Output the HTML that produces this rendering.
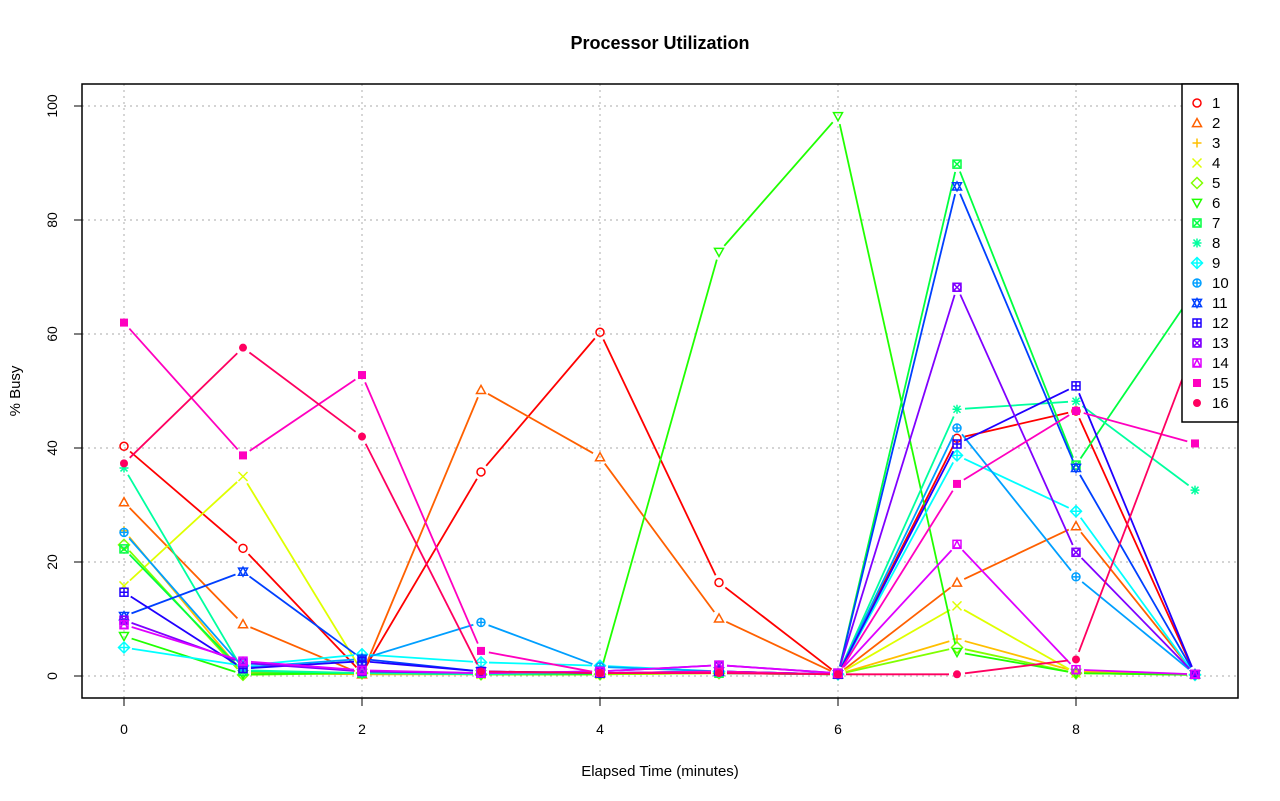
<!DOCTYPE html>
<html><head><meta charset="utf-8"><style>body{margin:0;background:#fff}svg{display:block}text{font-family:"Liberation Sans",sans-serif}</style></head>
<body>
<svg id="s" width="1280" height="801" xmlns="http://www.w3.org/2000/svg">
<rect width="1280" height="801" fill="#fff"/>
<text x="660" y="49" text-anchor="middle" font-size="18" font-weight="bold">Processor Utilization</text>
<text x="660" y="776" text-anchor="middle" font-size="15">Elapsed Time (minutes)</text>
<text transform="translate(20,391) rotate(-90)" text-anchor="middle" font-size="15">% Busy</text>
<g id="grid" stroke="#bbb" stroke-dasharray="2,4" stroke-width="1.2"></g>
<g id="data"></g>
<rect x="82" y="84" width="1156" height="614" fill="none" stroke="#000" stroke-width="1.5"/>
<g id="ax" font-size="14"></g>
<rect x="1182" y="84" width="56" height="338" fill="#fff" stroke="#000" stroke-width="1.5"/>
<g id="leg" font-size="15"></g>
</svg>
<script>
const NS="http://www.w3.org/2000/svg";
function el(p,t,a,txt){const e=document.createElementNS(NS,t);for(const k in a)e.setAttribute(k,a[k]);if(txt!=null)e.textContent=txt;p.appendChild(e);return e;}
const X=i=>124+119*i, Y=v=>676-5.7*v;
const grid=document.getElementById('grid'),ax=document.getElementById('ax');
for(let i=0;i<=8;i+=2){el(grid,'line',{x1:X(i),x2:X(i),y1:84,y2:698});el(ax,'line',{x1:X(i),x2:X(i),y1:698,y2:706,stroke:'#000'});el(ax,'text',{x:X(i),y:734,'text-anchor':'middle'},i);}
el(ax,'line',{x1:X(0),x2:X(8),y1:698,y2:698,stroke:'#000'});
for(let v=0;v<=100;v+=20){el(grid,'line',{x1:82,x2:1238,y1:Y(v),y2:Y(v)});el(ax,'line',{x1:74,x2:82,y1:Y(v),y2:Y(v),stroke:'#000'});el(ax,'text',{transform:`translate(57,${Y(v)}) rotate(-90)`,'text-anchor':'middle'},v);}
el(ax,'line',{x1:82,x2:82,y1:Y(0),y2:Y(100),stroke:'#000'});
const C=["#FF0000","#FF6000","#FFBF00","#DFFF00","#80FF00","#20FF00","#00FF40","#00FF9F","#00FFFF","#009FFF","#0040FF","#2000FF","#8000FF","#DF00FF","#FF00BF","#FF0060"];
const D=[
[40.3,22.4,0.5,35.8,60.3,16.4,0.3,41.7,46.5,0.3],
[30.5,9.1,0.3,50.2,38.4,10.1,0.3,16.4,26.3,0.3],
[25.5,0.5,0.3,0.3,0.3,0.5,0.3,6.5,0.8,0.3],
[15.8,35,0.8,0.3,0.3,0.5,0.3,12.3,0.5,0.2],
[23,0.2,0.5,0.3,0.3,0.5,0.3,5,0.5,0.2],
[7,0.3,0.5,0.3,0.3,74.4,98.2,4.2,0.5,0.2],
[22.3,0.8,0.5,0.5,0.5,0.5,0.3,89.8,37,67.7],
[36.5,1,0.5,0.3,0.5,0.5,0.3,46.8,48.2,32.6],
[5,1.8,3.8,2.4,1.8,0.8,0.3,38.7,28.9,0.2],
[25.2,1.5,3,9.4,1.6,0.8,0.3,43.5,17.4,0.3],
[10.5,18.3,3,0.8,0.5,0.8,0.3,85.9,36.5,0.3],
[14.7,1.3,2.6,0.8,0.5,0.8,0.3,40.7,50.9,0.3],
[9.8,2.3,0.8,0.5,0.8,1.9,0.5,68.2,21.7,0.3],
[9,2.6,1,0.5,0.8,1.9,0.5,23.1,1.1,0.3],
[62,38.7,52.8,4.4,0.5,0.8,0.3,33.7,46.5,40.8],
[37.3,57.6,42,0.8,0.5,0.5,0.3,0.3,2.9,58]];
function sym(g,k,x,y,c){const a={fill:'none',stroke:c,'stroke-width':1.5};const r=4.5;
 const tri=(s)=>el(g,'polygon',Object.assign({points:`${x-r},${y+s*r*0.8} ${x+r},${y+s*r*0.8} ${x},${y-s*r}`},a));
 const sq=()=>el(g,'rect',Object.assign({x:x-r+0.5,y:y-r+0.5,width:2*r-1,height:2*r-1},a));
 const pl=()=>el(g,'path',Object.assign({d:`M${x-r} ${y}H${x+r}M${x} ${y-r}V${y+r}`},a));
 const xx=(q)=>el(g,'path',Object.assign({d:`M${x-q} ${y-q}L${x+q} ${y+q}M${x-q} ${y+q}L${x+q} ${y-q}`},a));
 const ci=()=>el(g,'circle',Object.assign({cx:x,cy:y,r:r-0.5},a));
 const di=()=>el(g,'polygon',Object.assign({points:`${x},${y-r-1} ${x+r+1},${y} ${x},${y+r+1} ${x-r-1},${y}`},a));
 switch(k){case 1:ci();break;case 2:tri(1);break;case 3:pl();break;case 4:xx(r);break;case 5:di();break;case 6:tri(-1);break;
 case 7:sq();xx(r-1.5);break;case 8:pl();xx(r-1);break;case 9:di();pl();break;case 10:ci();pl();break;case 11:tri(1);tri(-1);break;
 case 12:sq();pl();break;case 13:ci();xx(r-1.5);sq();break;case 14:sq();el(g,'polygon',Object.assign({points:`${x-r+1},${y+r-1} ${x+r-1},${y+r-1} ${x},${y-r+1}`},a));break;
 case 15:el(g,'rect',{x:x-r+0.5,y:y-r+0.5,width:2*r-1,height:2*r-1,fill:c});break;
 case 16:el(g,'circle',{cx:x,cy:y,r:r-0.5,fill:c});break;}}
const g=document.getElementById('data');
D.forEach((s,i)=>{const c=C[i];for(let j=0;j<s.length-1;j++){const x1=X(j),y1=Y(s[j]),x2=X(j+1),y2=Y(s[j+1]);const L=Math.hypot(x2-x1,y2-y1),ux=(x2-x1)/L,uy=(y2-y1)/L,o=8;if(L>2*o)el(g,'line',{x1:x1+ux*o,y1:y1+uy*o,x2:x2-ux*o,y2:y2-uy*o,stroke:c,'stroke-width':1.8});}
 s.forEach((v,j)=>sym(g,i+1,X(j),Y(v),c));});
const lg=document.getElementById('leg');
for(let i=0;i<16;i++){const y=103+20*i;sym(lg,i+1,1197,y,C[i]);el(lg,'text',{x:1212,y:y+5},i+1);}
</script>
</body></html>
